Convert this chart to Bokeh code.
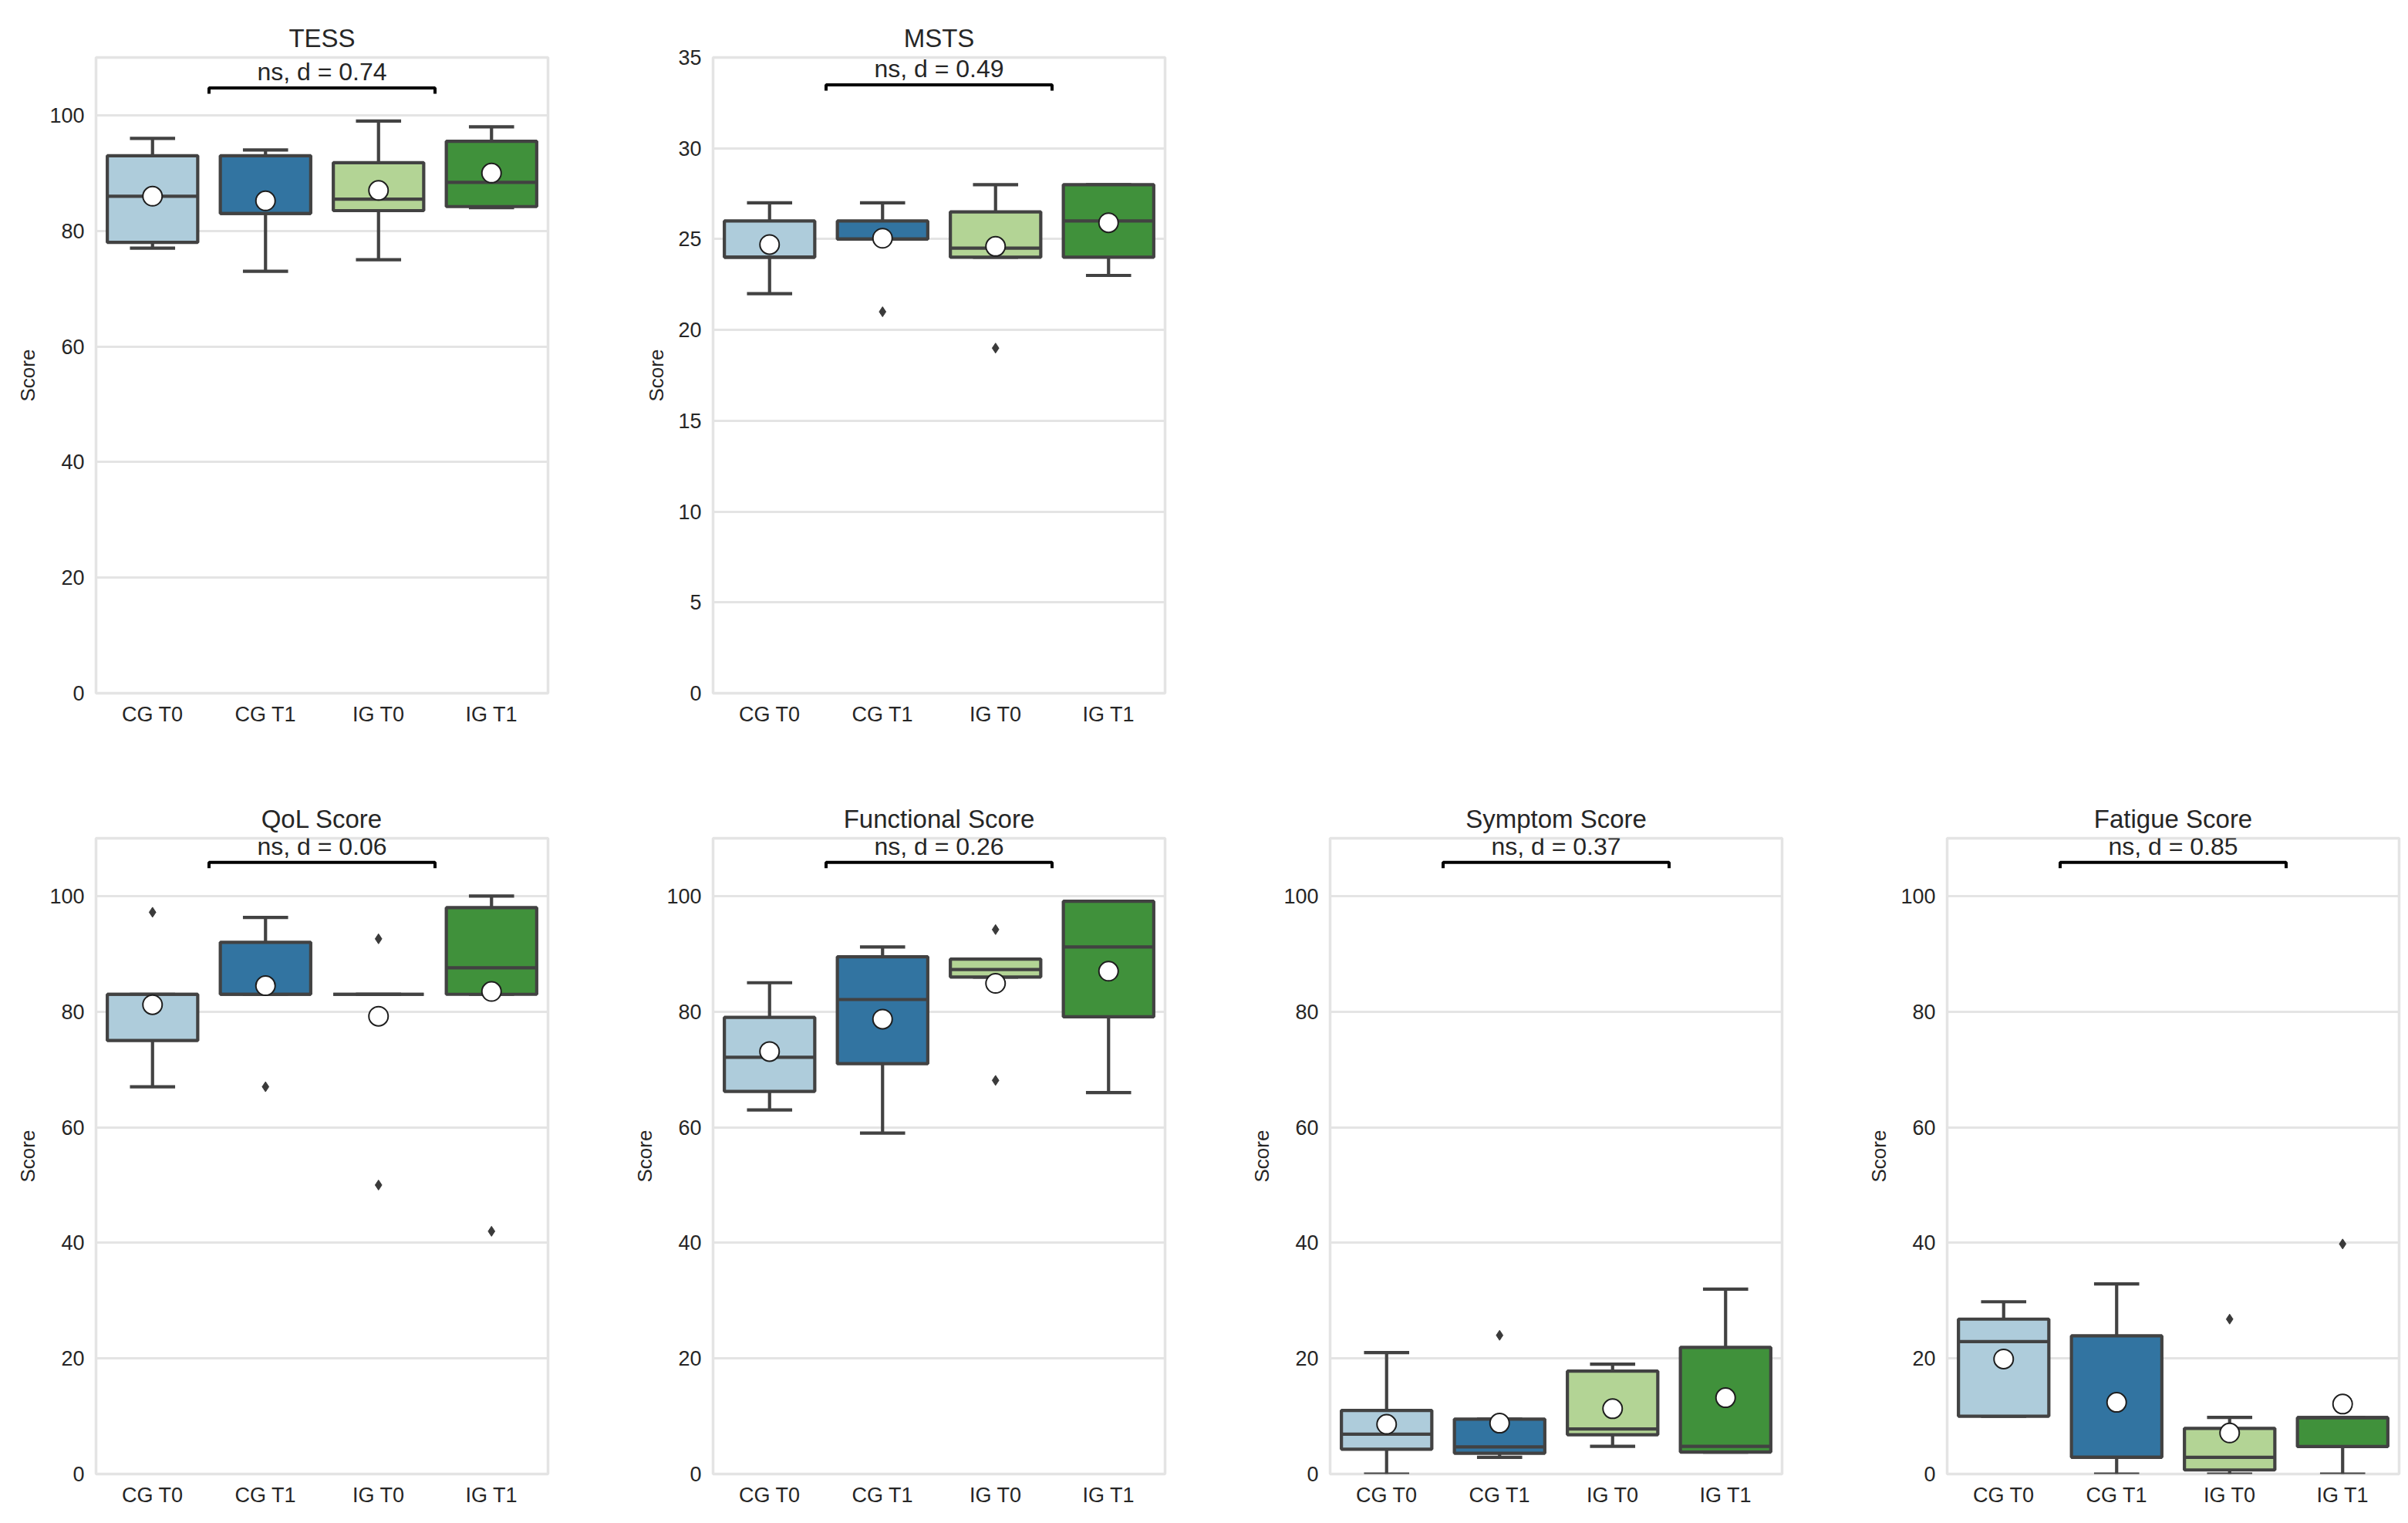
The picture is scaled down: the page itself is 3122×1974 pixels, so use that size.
from bokeh.plotting import figure
from bokeh.models import Range1d, FixedTicker, SingleIntervalTicker
from bokeh.layouts import gridplot
from bokeh.embed import file_html
from bokeh.resources import INLINE
from bokeh.core.properties import value

# ---------------- data ----------------
categories = ["CG T0", "CG T1", "IG T0", "IG T1"]
palette = ["#aeccdb", "#3274a1", "#b3d495", "#40913b"]

titles = ["TESS", "MSTS", "QoL Score", "Functional Score", "Symptom Score", "Fatigue Score"]
annotations = ["ns, d = 0.74", "ns, d = 0.49", "ns, d = 0.06", "ns, d = 0.26", "ns, d = 0.37", "ns, d = 0.85"]

tess_low = [77, 73, 75, 84]
tess_q1 = [78, 83, 83.5, 84.2]
tess_med = [86, 83, 85.5, 88.4]
tess_q3 = [93, 93, 91.8, 95.5]
tess_high = [96, 94, 99, 98]
tess_mean = [86.0, 85.2, 87.0, 90.0]
tess_out_x = []
tess_out_y = []

msts_low = [22, 25, 24, 23]
msts_q1 = [24, 25, 24, 24]
msts_med = [24, 25, 24.5, 26]
msts_q3 = [26, 26, 26.5, 28]
msts_high = [27, 27, 28, 28]
msts_mean = [24.7, 25.05, 24.6, 25.9]
msts_out_x = [1, 2]
msts_out_y = [21, 19]

qol_low = [67, 83, 83, 83]
qol_q1 = [75, 83, 83, 83]
qol_med = [83, 83, 83, 87.6]
qol_q3 = [83, 92, 83, 98]
qol_high = [83, 96.3, 83, 100]
qol_mean = [81.2, 84.5, 79.2, 83.5]
qol_out_x = [0, 1, 2, 2, 3]
qol_out_y = [97.2, 67, 92.6, 50, 42]

func_low = [63, 59, 86, 66]
func_q1 = [66.2, 71, 86, 79.1]
func_med = [72.1, 82.1, 87.3, 91.2]
func_q3 = [79, 89.5, 89.1, 99.1]
func_high = [85, 91.2, 89.1, 99.1]
func_mean = [73.1, 78.7, 84.9, 87.0]
func_out_x = [2, 2]
func_out_y = [94.2, 68.1]

symp_low = [0, 2.9, 4.8, 3.8]
symp_q1 = [4.3, 3.6, 6.8, 3.8]
symp_med = [6.9, 4.7, 7.8, 4.8]
symp_q3 = [11, 9.5, 17.8, 21.9]
symp_high = [21, 9.5, 19, 32]
symp_mean = [8.6, 8.8, 11.3, 13.2]
symp_out_x = [1]
symp_out_y = [24]

fat_low = [10, 0, 0, 0]
fat_q1 = [10, 2.9, 0.7, 4.75]
fat_med = [22.9, 2.9, 2.9, 9.75]
fat_q3 = [26.8, 23.9, 7.9, 9.75]
fat_high = [29.8, 32.9, 9.8, 9.75]
fat_mean = [19.9, 12.4, 7.1, 12.1]
fat_out_x = [2, 3]
fat_out_y = [26.8, 39.8]

# ---------------- style ----------------
FONT = "Liberation Sans"
EDGE = "#424242"
TXT = "#262626"
GRID = "#e4e4e4"
LW = 4.2


def make_panel(title, ann, low, q1, med, q3, high, mean, out_x, out_y,
               ymax, yint, width, height, bl, br, bt, bb, bracket_frac):
    p = figure(width=width, height=height,
               x_range=Range1d(-0.5, len(categories) - 0.5),
               y_range=Range1d(0, ymax),
               output_backend="svg", toolbar_location=None,
               min_border_left=bl, min_border_right=br,
               min_border_top=bt, min_border_bottom=bb)
    p.background_fill_color = "white"
    p.border_fill_color = "white"
    p.outline_line_color = GRID
    p.outline_line_width = 3.5

    p.title.text = title
    p.title.align = "center"
    p.title.text_font = FONT
    p.title.text_font_size = "33px"
    p.title.text_font_style = "normal"
    p.title.text_color = TXT
    p.title.standoff = 14

    xs = list(range(len(categories)))
    p.xaxis.ticker = FixedTicker(ticks=xs)
    p.xaxis.major_label_overrides = {i: c for i, c in enumerate(categories)}
    p.yaxis.ticker = SingleIntervalTicker(interval=yint)
    for ax in (p.xaxis, p.yaxis):
        ax.axis_line_color = None
        ax.major_tick_line_color = None
        ax.minor_tick_line_color = None
        ax.major_tick_out = 0
        ax.major_tick_in = 0
        ax.minor_tick_out = 0
        ax.major_label_text_font = FONT
        ax.major_label_text_font_size = "27px"
        ax.major_label_text_color = TXT
    p.xaxis.major_label_standoff = 12
    p.yaxis.major_label_standoff = 15
    p.yaxis.axis_label = "Score"
    p.yaxis.axis_label_text_font = FONT
    p.yaxis.axis_label_text_font_size = "26px"
    p.yaxis.axis_label_text_font_style = "normal"
    p.yaxis.axis_label_text_color = TXT
    p.yaxis.axis_label_standoff = 10
    p.xgrid.grid_line_color = None
    p.ygrid.grid_line_color = GRID
    p.ygrid.grid_line_width = 3

    # whiskers
    p.segment(x0=xs, y0=q3, x1=xs, y1=high, line_color=EDGE, line_width=LW)
    p.segment(x0=xs, y0=q1, x1=xs, y1=low, line_color=EDGE, line_width=LW)
    p.segment(x0=[x - 0.2 for x in xs], y0=high, x1=[x + 0.2 for x in xs], y1=high,
              line_color=EDGE, line_width=LW)
    p.segment(x0=[x - 0.2 for x in xs], y0=low, x1=[x + 0.2 for x in xs], y1=low,
              line_color=EDGE, line_width=LW)
    # boxes
    p.vbar(x=xs, bottom=q1, top=q3, width=0.8, fill_color=palette,
           line_color=EDGE, line_width=LW)
    # medians
    p.segment(x0=[x - 0.4 for x in xs], y0=med, x1=[x + 0.4 for x in xs], y1=med,
              line_color=EDGE, line_width=LW)
    # fliers
    if out_x:
        p.scatter(x=out_x, y=out_y, marker="diamond", size=13,
                  fill_color="#3a3a3a", line_color="#3a3a3a")
    # means
    p.scatter(x=xs, y=mean, marker="circle", size=25, fill_color="white",
              line_color="#1e1e1e", line_width=2)

    # significance bracket
    by = ymax * bracket_frac
    d = ymax / 110.0
    p.line(x=[0.5, 0.5, 2.5, 2.5], y=[by - 1.0 * d, by, by, by - 1.0 * d],
           line_color="black", line_width=4)
    p.text(x=[1.5], y=[by + 2.8 * d], text=[ann], text_align="center",
           text_baseline="middle", text_font=value(FONT),
           text_font_size=value("32px"), text_color=TXT)
    return p


TOP_H, BOT_H = 1012, 958
W, W_LAST = 800, 722

p1 = make_panel(titles[0], annotations[0], tess_low, tess_q1, tess_med, tess_q3, tess_high,
                tess_mean, tess_out_x, tess_out_y, 110, 20, W, TOP_H, 124, 90, 74, 114, 0.952)
p2 = make_panel(titles[1], annotations[1], msts_low, msts_q1, msts_med, msts_q3, msts_high,
                msts_mean, msts_out_x, msts_out_y, 35, 5, W, TOP_H, 124, 90, 74, 114, 0.957)
p3 = make_panel(titles[2], annotations[2], qol_low, qol_q1, qol_med, qol_q3, qol_high,
                qol_mean, qol_out_x, qol_out_y, 110, 20, W, BOT_H, 124, 90, 74, 60, 0.962)
p4 = make_panel(titles[3], annotations[3], func_low, func_q1, func_med, func_q3, func_high,
                func_mean, func_out_x, func_out_y, 110, 20, W, BOT_H, 124, 90, 74, 60, 0.962)
p5 = make_panel(titles[4], annotations[4], symp_low, symp_q1, symp_med, symp_q3, symp_high,
                symp_mean, symp_out_x, symp_out_y, 110, 20, W, BOT_H, 124, 90, 74, 60, 0.962)
p6 = make_panel(titles[5], annotations[5], fat_low, fat_q1, fat_med, fat_q3, fat_high,
                fat_mean, fat_out_x, fat_out_y, 110, 20, W_LAST, BOT_H, 124, 12, 74, 60, 0.962)

grid = gridplot([[p1, p2, None, None], [p3, p4, p5, p6]], toolbar_location=None)

open("out.html", "w").write(file_html(grid, INLINE))
